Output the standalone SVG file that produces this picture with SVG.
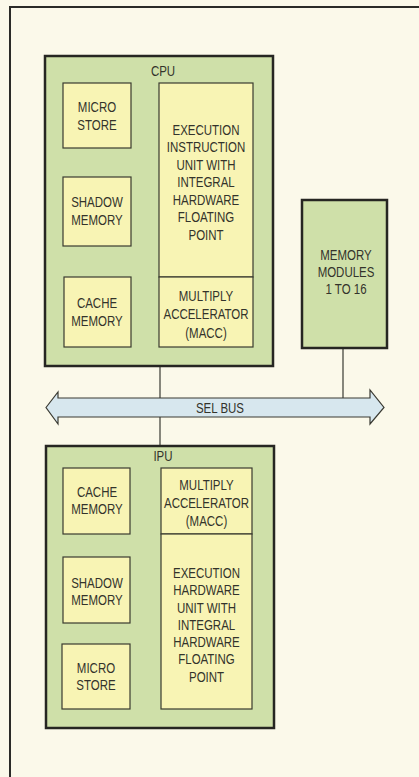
<svg xmlns="http://www.w3.org/2000/svg" width="419" height="777" viewBox="0 0 419 777">
<style>
.bg{fill:#fbf9ea}
.frame{fill:none;stroke:#2b2b28;stroke-width:2}
.outer{fill:#cfe0a9;stroke:#262622;stroke-width:2.5}
.inner{fill:#f8f4b4;stroke:#3a3a30;stroke-width:1.2}
.conn{stroke:#3a3a32;stroke-width:1.2;fill:none}
.bus{fill:#d7e7ee;stroke:#3a3a32;stroke-width:1.2}
.t{font-family:"Liberation Sans",Arial,sans-serif;font-size:14px;fill:#33332b;text-anchor:middle}
</style>
<rect class="bg" x="0" y="0" width="419" height="777"/>
<path class="frame" d="M10,777 V7 H419"/>
<g id="connectors">
<line class="conn" x1="160" y1="366" x2="160" y2="446"/>
<line class="conn" x1="343" y1="348" x2="343" y2="398"/>
</g>
<g id="sel-bus">
<path class="bus" d="M46,407.5 L58,392 V398 H370 V390 L384,407.5 L370,424 V417 H58 V424 Z"/>
<text class="t" transform="translate(220,413) scale(0.82,1)">SEL BUS</text>
</g>
<g id="cpu">
<rect class="outer" x="45" y="56" width="228" height="310"/>
<text class="t" transform="translate(163,76) scale(0.82,1)">CPU</text>
</g>
<g id="cpu-micro-store">
<rect class="inner" x="63" y="83" width="68" height="65"/>
<text class="t" transform="translate(97,112) scale(0.82,1)"><tspan x="0" y="0">MICRO</tspan><tspan x="0" y="18">STORE</tspan></text>
</g>
<g id="cpu-shadow-memory">
<rect class="inner" x="63" y="177" width="68" height="69"/>
<text class="t" transform="translate(97,207) scale(0.82,1)"><tspan x="0" y="0">SHADOW</tspan><tspan x="0" y="18">MEMORY</tspan></text>
</g>
<g id="cpu-cache-memory">
<rect class="inner" x="64" y="277" width="67" height="70"/>
<text class="t" transform="translate(97,308) scale(0.82,1)"><tspan x="0" y="0">CACHE</tspan><tspan x="0" y="18">MEMORY</tspan></text>
</g>
<g id="cpu-execution-unit">
<rect class="inner" x="159" y="83" width="94" height="194"/>
<text class="t" transform="translate(206,135) scale(0.82,1)"><tspan x="0" y="0">EXECUTION</tspan><tspan x="0" y="17.5">INSTRUCTION</tspan><tspan x="0" y="35">UNIT WITH</tspan><tspan x="0" y="52.5">INTEGRAL</tspan><tspan x="0" y="70">HARDWARE</tspan><tspan x="0" y="87.5">FLOATING</tspan><tspan x="0" y="105">POINT</tspan></text>
</g>
<g id="cpu-macc">
<rect class="inner" x="159" y="277" width="94" height="70"/>
<text class="t" transform="translate(206,301) scale(0.82,1)"><tspan x="0" y="0">MULTIPLY</tspan><tspan x="0" y="18.3">ACCELERATOR</tspan><tspan x="0" y="36.6">(MACC)</tspan></text>
</g>
<g id="memory-modules">
<rect class="outer" x="302" y="200" width="85" height="148"/>
<text class="t" transform="translate(346,260) scale(0.82,1)"><tspan x="0" y="0">MEMORY</tspan><tspan x="0" y="17">MODULES</tspan><tspan x="0" y="34">1 TO 16</tspan></text>
</g>
<g id="ipu">
<rect class="outer" x="46" y="446" width="228" height="282"/>
<text class="t" transform="translate(163,461) scale(0.82,1)">IPU</text>
</g>
<g id="ipu-cache-memory">
<rect class="inner" x="63" y="468" width="67" height="66"/>
<text class="t" transform="translate(97,497) scale(0.82,1)"><tspan x="0" y="0">CACHE</tspan><tspan x="0" y="17.5">MEMORY</tspan></text>
</g>
<g id="ipu-shadow-memory">
<rect class="inner" x="63" y="557" width="67" height="66"/>
<text class="t" transform="translate(97,588) scale(0.82,1)"><tspan x="0" y="0">SHADOW</tspan><tspan x="0" y="17">MEMORY</tspan></text>
</g>
<g id="ipu-micro-store">
<rect class="inner" x="62" y="644" width="68" height="65"/>
<text class="t" transform="translate(96,673) scale(0.82,1)"><tspan x="0" y="0">MICRO</tspan><tspan x="0" y="17">STORE</tspan></text>
</g>
<g id="ipu-macc">
<rect class="inner" x="161" y="468" width="91" height="66"/>
<text class="t" transform="translate(206.5,490) scale(0.82,1)"><tspan x="0" y="0">MULTIPLY</tspan><tspan x="0" y="18">ACCELERATOR</tspan><tspan x="0" y="36">(MACC)</tspan></text>
</g>
<g id="ipu-execution-unit">
<rect class="inner" x="161" y="534" width="91" height="175"/>
<text class="t" transform="translate(206.5,578) scale(0.82,1)"><tspan x="0" y="0">EXECUTION</tspan><tspan x="0" y="17.3">HARDWARE</tspan><tspan x="0" y="34.6">UNIT WITH</tspan><tspan x="0" y="51.9">INTEGRAL</tspan><tspan x="0" y="69.2">HARDWARE</tspan><tspan x="0" y="86.5">FLOATING</tspan><tspan x="0" y="103.8">POINT</tspan></text>
</g>
</svg>
